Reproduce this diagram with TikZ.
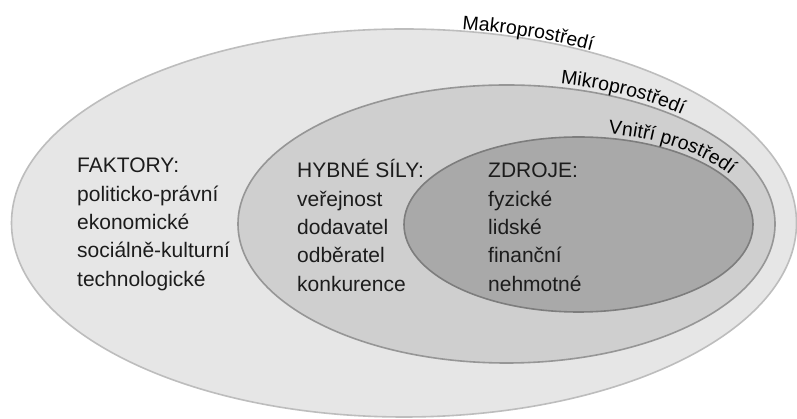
\documentclass[tikz,border=0pt]{standalone}
\usepackage{fontspec}
\setmainfont{Liberation Sans}
\usetikzlibrary{shapes.geometric,decorations.text}

\definecolor{macrofill}{HTML}{E6E6E6}
\definecolor{macroline}{HTML}{BDBDBD}
\definecolor{microfill}{HTML}{CFCFCF}
\definecolor{microline}{HTML}{969696}
\definecolor{corefill}{HTML}{A9A9A9}
\definecolor{coreline}{HTML}{7D7D7D}
\definecolor{ink}{HTML}{1C1C1C}

\newcommand{\bodyfont}{\fontsize{21}{28.3}\selectfont}
\newcommand{\rimfont}{\fontsize{19.5}{24}\selectfont}

\begin{document}
\begin{tikzpicture}[x=1pt,y=1pt,
  ring/.style={ellipse, inner sep=0pt, outer sep=0pt, line width=1.6pt},
  listing/.style={anchor=base west, inner sep=0pt, text=ink, font=\bodyfont},
  arclabel/.style={decorate, decoration={text along path, raise=#1,
      text align=left}}
]
  \fill[white] (0,0) rectangle (797,419);
  \useasboundingbox (0,0) rectangle (797,419);

  % nested environments
  \node[ring, draw=macroline, fill=macrofill,
        minimum width=785pt, minimum height=388pt] (macro) at (404,196) {};
  \node[ring, draw=microline, fill=microfill,
        minimum width=537pt, minimum height=278pt] (micro) at (506.5,195) {};
  \node[ring, draw=coreline, fill=corefill,
        minimum width=349pt, minimum height=175pt] (core) at (578.5,194.5) {};

  % labels following the upper rims
  \path[arclabel=2pt, decoration={text={|\rimfont|Makroprostředí}}]
    ([shift={(81.5:392.5 and 194)}]macro.center)
    arc[start angle=81.5, end angle=20, x radius=392.5, y radius=194];
  \path[arclabel=4pt, decoration={text={|\rimfont|Mikroprostředí}}]
    ([shift={(78.5:268.5 and 139)}]micro.center)
    arc[start angle=78.5, end angle=10, x radius=268.5, y radius=139];
  \path[arclabel=4.5pt, decoration={text={|\rimfont|Vnitří prostředí}}]
    ([shift={(80.3:174.5 and 87.5)}]core.center)
    arc[start angle=80.3, end angle=0, x radius=174.5, y radius=87.5];

  % contents of each ring
  \node[listing] (factors) at (77,246) {\begin{tabular}[t]{@{}l@{}}
    FAKTORY:\\ politicko-právní\\ ekonomické\\ sociálně-kulturní\\ technologické
  \end{tabular}};
  \node[listing] (forces) at (297,241) {\begin{tabular}[t]{@{}l@{}}
    HYBNÉ SÍLY:\\ veřejnost\\ dodavatel\\ odběratel\\ konkurence
  \end{tabular}};
  \node[listing] (resources) at (488,241) {\begin{tabular}[t]{@{}l@{}}
    ZDROJE:\\ fyzické\\ lidské\\ finanční\\ nehmotné
  \end{tabular}};
\end{tikzpicture}
\end{document}
